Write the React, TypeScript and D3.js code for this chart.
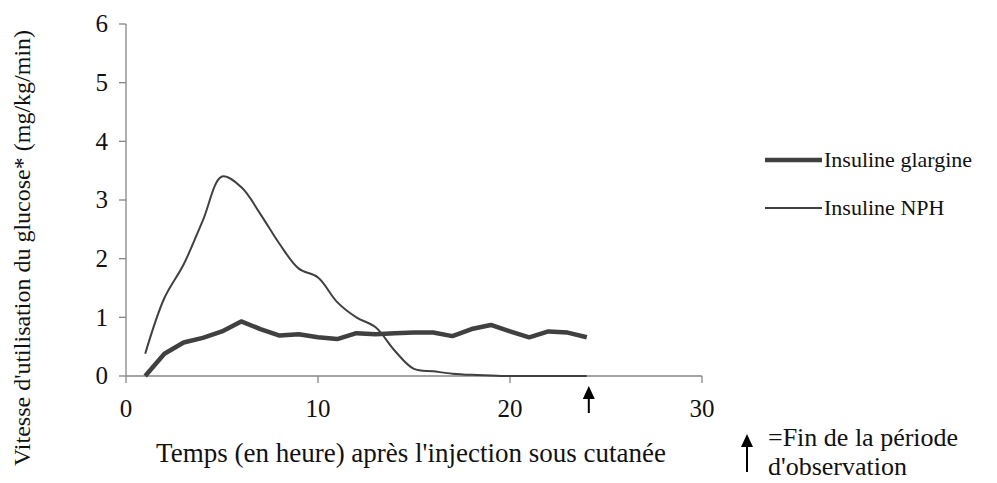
import * as d3 from 'd3';

// hours after injection
const hours = d3.range(1, 25);
// glucose utilisation rate (mg/kg/min)
const glargine = [0, 0.38, 0.57, 0.65, 0.76, 0.93, 0.8, 0.69, 0.71, 0.66, 0.63, 0.73, 0.71, 0.73, 0.74, 0.74, 0.68, 0.8, 0.87, 0.76, 0.66, 0.76, 0.74, 0.66];
const nph = [0.38, 1.33, 1.9, 2.65, 3.4, 3.22, 2.76, 2.25, 1.83, 1.68, 1.26, 1.0, 0.83, 0.43, 0.12, 0.08, 0.04, 0.02, 0.01, 0, 0, 0, 0, 0];
const xTicks = [0, 10, 20, 30];
const yTicks = [0, 1, 2, 3, 4, 5, 6];
const endOfObservation = 24;

const series = [
  { name: 'Insuline glargine', values: glargine, width: 4.5, smooth: false },
  { name: 'Insuline NPH', values: nph, width: 2, smooth: true },
];

export default function App() {
  const width = 997;
  const height = 483;
  const margin = { top: 24, right: 295, bottom: 107, left: 126 };
  const font = "'Liberation Serif', 'DejaVu Serif', serif";
  const ink = '#404040';
  const axisColor = '#868686';

  const x = d3.scaleLinear().domain([0, 30]).range([margin.left, width - margin.right]);
  const y = d3.scaleLinear().domain([0, 6]).range([height - margin.bottom, margin.top]);

  const line = (vals: number[], smooth: boolean) =>
    d3
      .line<number>()
      .x((_, i) => x(hours[i]))
      .y((d) => y(d))
      .curve(smooth ? d3.curveCatmullRom.alpha(0.5) : d3.curveLinear)(vals) as string;

  const y0 = y(0);
  const ax = x(endOfObservation);

  return (
    <svg
      width={width}
      height={height}
      style={{ position: 'absolute', left: 0, top: 0, background: '#fff', fontFamily: font }}
    >
      {/* y axis */}
      <line x1={x(0)} x2={x(0)} y1={y(6)} y2={y0} stroke={axisColor} strokeWidth={1.3} />
      {yTicks.map((t) => (
        <g key={t}>
          <line x1={x(0) - 7} x2={x(0)} y1={y(t)} y2={y(t)} stroke={axisColor} strokeWidth={1.3} />
          <text x={x(0) - 18} y={y(t)} dy="0.33em" textAnchor="end" fontSize={25} fill="#111">
            {t}
          </text>
        </g>
      ))}
      {/* x axis */}
      <line x1={x(0)} x2={x(30)} y1={y0} y2={y0} stroke={axisColor} strokeWidth={1.3} />
      {xTicks.map((t) => (
        <g key={t}>
          <line x1={x(t)} x2={x(t)} y1={y0} y2={y0 + 7} stroke={axisColor} strokeWidth={1.3} />
          <text x={x(t)} y={y0 + 41} textAnchor="middle" fontSize={25} fill="#111">
            {t}
          </text>
        </g>
      ))}

      {series.map((s) => (
        <path key={s.name} d={line(s.values, s.smooth)} fill="none" stroke={ink} strokeWidth={s.width} strokeLinejoin="round" />
      ))}

      {/* end of observation arrow */}
      <line x1={ax + 2} x2={ax + 2} y1={y0 + 20} y2={y0 + 37} stroke="#000" strokeWidth={2} />
      <path d={`M${ax + 2},${y0 + 10} l-6,13 l12,0 z`} fill="#000" />

      <text x={(x(0) + x(30)) / 2 - 3} y={y0 + 86} textAnchor="middle" fontSize={27} fill="#111">
        Temps (en heure) après l'injection sous cutanée
      </text>
      <text
        transform={`translate(30,${(y(6) + y0) / 2 + 48}) rotate(-90)`}
        textAnchor="middle"
        fontSize={24}
        fill="#111"
      >
        Vitesse d'utilisation du glucose* (mg/kg/min)
      </text>

      {/* legend */}
      {series.map((s, i) => (
        <g key={s.name} transform={`translate(765,${160 + i * 48})`}>
          <line x1={0} x2={57} y1={0} y2={0} stroke={ink} strokeWidth={s.width} />
          <text x={59} y={0} dy="0.33em" fontSize={22} fill="#111">
            {s.name}
          </text>
        </g>
      ))}

      {/* note */}
      <line x1={747} x2={747} y1={446} y2={472} stroke="#000" strokeWidth={2} />
      <path d="M747,434 l-6,13 l12,0 z" fill="#000" />
      <text x={768} y={446} fontSize={26} fill="#111">
        =Fin de la période
      </text>
      <text x={768} y={475} fontSize={26} fill="#111">
        d'observation
      </text>
    </svg>
  );
}
